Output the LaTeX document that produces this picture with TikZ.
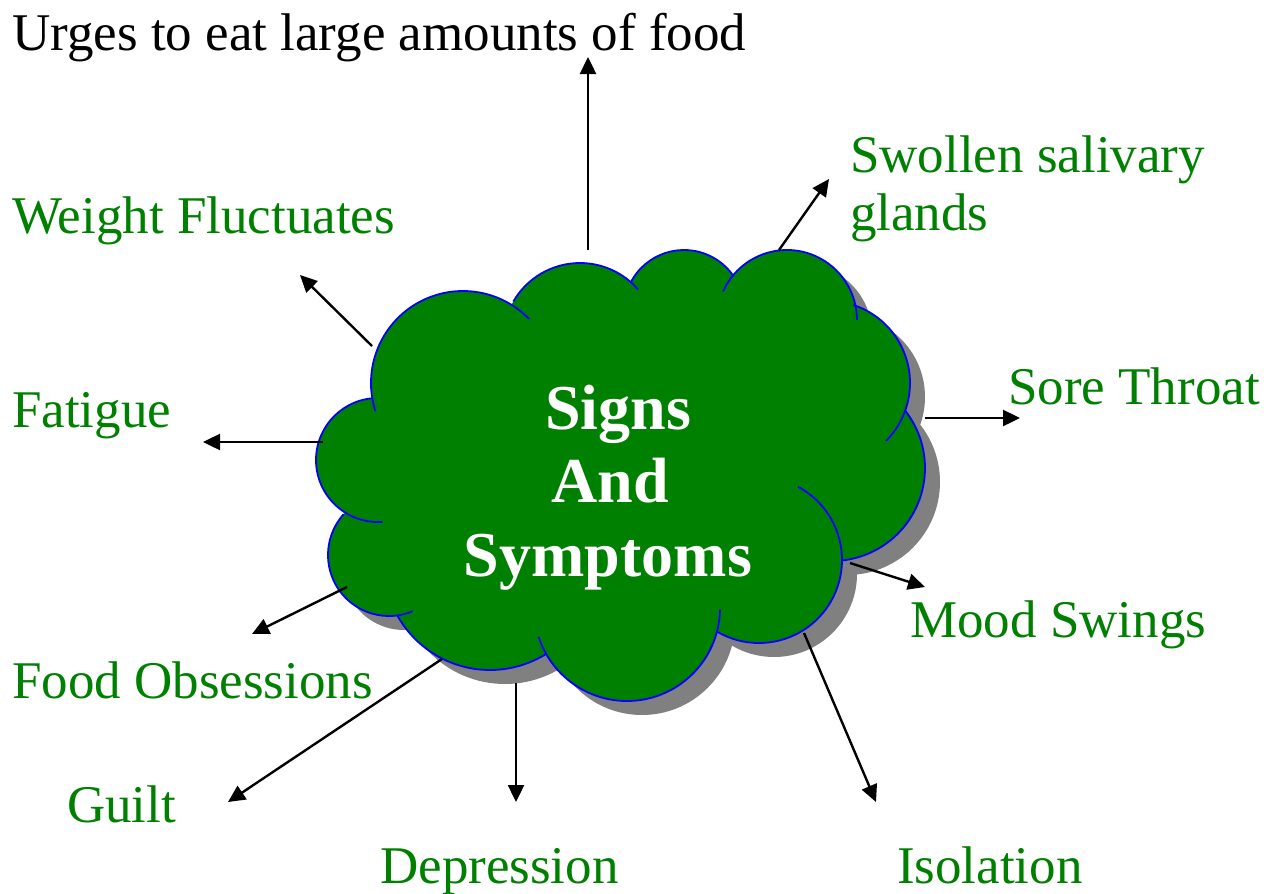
\documentclass[tikz,border=0pt]{standalone}
\usepackage{fontspec}
\setmainfont{Liberation Serif}
\usetikzlibrary{arrows.meta}
\definecolor{cloudgreen}{RGB}{0,128,0}
\definecolor{textgreen}{RGB}{0,128,0}
\definecolor{cloudblue}{RGB}{0,0,255}
\definecolor{shadowgray}{RGB}{128,128,128}
\newcommand\cloudbody[1]{%
  \fill[#1] (463,383) circle[radius=92] (580,340) circle[radius=77]
    (684,310) circle[radius=60] (787,320) circle[radius=70]
    (828,383) circle[radius=82] (832,468) circle[radius=93]
    (759,560) circle[radius=83] (627,608) circle[radius=93]
    (490,564) circle[radius=106] (389,555) circle[radius=61]
    (378,460) circle[radius=62];
  \fill[#1] (463,383) -- (580,340) -- (684,310) -- (787,320) -- (828,383)
    -- (832,468) -- (759,560) -- (627,608) -- (490,564) -- (389,555)
    -- (378,460) -- cycle;}
\newcommand\bump[5]{\draw[cloudline] (#1,#2) ++(#4:#3) arc[start angle=#4, end angle=#5, radius=#3];}
\begin{document}
\begin{tikzpicture}[x=1pt,y=-1pt,
  cloudline/.style={draw=cloudblue,line width=1.8pt},
  lbl/.style={inner sep=0pt,anchor=base west,text=textgreen,font=\fontsize{53}{58}\selectfont},
  ttl/.style={inner sep=0pt,anchor=base,text=white,font=\bfseries\fontsize{64}{74}\selectfont},
  conn/.style={line width=2.4pt,-{Triangle[length=17pt,width=16pt]}}]
\useasboundingbox[fill=white] (0,0) rectangle (1277,894);
% shadow
\begin{scope}[shift={(15,14)}]
  \cloudbody{shadowgray}
\end{scope}
% cloud
\cloudbody{cloudgreen}
\bump{463}{383}{92}{162}{316}
\bump{580}{340}{77}{210}{319}
\bump{684}{310}{60}{207}{324}
\bump{787}{320}{70}{204}{360}
\bump{828}{383}{82}{-72}{45}
\bump{832}{468}{93}{-38.5}{84}
\bump{759}{560}{83}{120}{-62}
\bump{627}{608}{93}{1}{162}
\bump{490}{564}{106}{58}{151}
\bump{389}{555}{61}{67}{222}
\bump{378}{460}{62}{86}{264}
% title
\node[ttl] (title1) at (618,429) {Signs};
\node[ttl] (title2) at (610,502) {And};
\node[ttl] (title3) at (608,576) {Symptoms};
% labels
\node[lbl,text=black] (urges) at (12,50) {Urges to eat large amounts of food};
\node[lbl] (weight) at (12,233) {Weight Fluctuates};
\node[lbl] (swollen1) at (850,172) {Swollen salivary};
\node[lbl] (swollen2) at (850,230) {glands};
\node[lbl] (fatigue) at (12,427) {Fatigue};
\node[lbl] (sore) at (1008,404) {Sore Throat};
\node[lbl] (mood) at (910,637) {Mood Swings};
\node[lbl] (foodobs) at (12,698) {Food Obsessions};
\node[lbl] (guilt) at (67,822) {Guilt};
\node[lbl] (depression) at (380,883) {Depression};
\node[lbl] (isolation) at (897,883) {Isolation};
% connector ends
\coordinate (urgesS) at (588,250);   \coordinate (urgesE) at (588,57);
\coordinate (weightS) at (372,346);  \coordinate (weightE) at (300,275);
\coordinate (fatigueS) at (323,442); \coordinate (fatigueE) at (203,442);
\coordinate (swollenS) at (779,250); \coordinate (swollenE) at (829,179);
\coordinate (soreS) at (925,418);    \coordinate (soreE) at (1020,418);
\coordinate (moodS) at (850,563);    \coordinate (moodE) at (925,587);
\coordinate (isoS) at (804,633);     \coordinate (isoE) at (876,802);
\coordinate (depS) at (516,683);     \coordinate (depE) at (516,802);
\coordinate (guiltS) at (442,659);   \coordinate (guiltE) at (228,802);
\coordinate (foodS) at (347,587);    \coordinate (foodE) at (252,634);
\draw[conn] (urgesS) -- (urgesE);
\draw[conn] (weightS) -- (weightE);
\draw[conn] (fatigueS) -- (fatigueE);
\draw[conn] (swollenS) -- (swollenE);
\draw[conn] (soreS) -- (soreE);
\draw[conn] (moodS) -- (moodE);
\draw[conn] (isoS) -- (isoE);
\draw[conn] (depS) -- (depE);
\draw[conn] (guiltS) -- (guiltE);
\draw[conn] (foodS) -- (foodE);
\end{tikzpicture}
\end{document}
